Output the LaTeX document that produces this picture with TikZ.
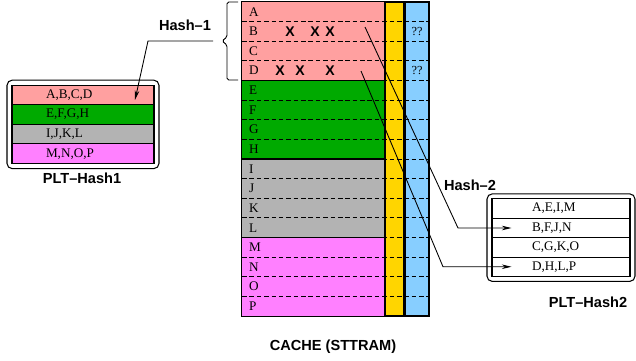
\documentclass[tikz,border=0pt]{standalone}
\usepackage{fontspec}
\setmainfont{Liberation Serif}
\setsansfont{Liberation Sans}
\usepackage{xcolor}
\usetikzlibrary{positioning, arrows.meta, fit, backgrounds}
\definecolor{pinkc}{RGB}{255,160,160}
\definecolor{greenc}{RGB}{0,170,0}
\definecolor{grayc}{RGB}{179,179,179}
\definecolor{magc}{RGB}{255,128,255}
\definecolor{yelc}{RGB}{255,213,0}
\definecolor{bluec}{RGB}{135,206,255}
\tikzset{
  cell/.style={rectangle, minimum width=2.86cm, minimum height=0.3925cm, inner sep=0pt,
               inner xsep=0.14cm, text width=2.58cm, align=left, font=\fontsize{7.5}{9}\selectfont},
  col/.style={rectangle, draw, line width=0.7pt, inner sep=0pt, minimum height=6.28cm},
  grp/.style={draw, line width=0.7pt},
  sep/.style={densely dashed, dash pattern=on 2.6pt off 1.6pt, line width=0.5pt},
  xmark/.style={font=\fontsize{8}{9}\sffamily\bfseries, inner sep=0pt},
  qm/.style={font=\fontsize{7}{8}\selectfont, inner sep=0pt},
  hrowa/.style={rectangle, draw, line width=0.6pt, minimum height=0.395cm, inner ysep=0pt,
                inner xsep=0.68cm, text width=1.48cm, align=left, font=\fontsize{7.5}{9}\selectfont},
  hrowb/.style={rectangle, draw, line width=0.6pt, minimum height=0.385cm, inner ysep=0pt,
                inner xsep=0.8cm, text width=1.16cm, align=left, font=\fontsize{7.5}{9}\selectfont},
  pltbox/.style={draw, rounded corners=3pt, inner sep=0.09cm, line width=0.6pt},
  lbl/.style={font=\fontsize{8.3}{10}\sffamily\bfseries},
  arr/.style={-{Stealth[length=5.5pt, width=2.6pt]}, line width=0.5pt},
}

\begin{document}
\begin{tikzpicture}[x=0.02cm, y=-0.02cm]
  \useasboundingbox (0,0) rectangle (636,360);

  % Cache rows
  \foreach \l/\c [count=\i from 0] in {A/pinkc, B/pinkc, C/pinkc, D/pinkc,
      E/greenc, F/greenc, G/greenc, H/greenc, I/grayc, J/grayc, K/grayc, L/grayc,
      M/magc, N/magc, O/magc, P/magc}
    \node[cell, fill=\c] (c\l) at (313.5, {2+19.625*(\i+0.5)}) {\l};

  % Tag and flag columns
  \node[col, fill=yelc, minimum width=0.38cm] (ycol) at (394, 159) {};
  \node[col, fill=bluec, minimum width=0.48cm] (bcol) at (417, 159) {};

  % Row separators
  \foreach \i in {1,...,15}
    \draw[sep] (242, {2+19.625*\i}) -- (429, {2+19.625*\i});

  % Groups of four
  \foreach \a/\b in {A/D, E/H, I/L, M/P}
    \draw[grp] (c\a.north west) rectangle (c\b.south east);

  % X marks and flags
  \foreach \x [count=\k] in {290, 315, 330}
    \node[xmark] (xb\k) at (\x, 0 |- cB) {X};
  \foreach \x [count=\k] in {280, 300, 330}
    \node[xmark] (xd\k) at (\x, 0 |- cD) {X};
  \node[qm] (qB) at (bcol |- cB) {??};
  \node[qm] (qD) at (bcol |- cD) {??};

  % Brace over A-D
  \draw[line width=0.5pt, rounded corners=1pt] (238,2) -- (227,2) -- (227,37) -- (222,41)
    -- (227,45) -- (227,80) -- (238,80);

  % PLT-Hash1
  \node[hrowa, fill=pinkc] (h1r1) at (83, 95) {A,B,C,D};
  \node[hrowa, fill=greenc] (h1r2) at (83, 114.5) {E,F,G,H};
  \node[hrowa, fill=grayc] (h1r3) at (83, 134) {I,J,K,L};
  \node[hrowa, fill=magc] (h1r4) at (83, 153.75) {M,N,O,P};
  \node[pltbox, fit=(h1r1)(h1r4)] (h1box) {};
  \node[lbl] (h1name) at (82, 178) {PLT--Hash1};

  % PLT-Hash2
  \node[hrowb] (h2r1) at (561, 208.5) {A,E,I,M};
  \node[hrowb] (h2r2) at (561, 228) {B,F,J,N};
  \node[hrowb] (h2r3) at (561, 247.5) {C,G,K,O};
  \node[hrowb] (h2r4) at (561, 266.75) {D,H,L,P};
  \node[pltbox, fit=(h2r1)(h2r4)] (h2box) {};
  \node[lbl] (h2name) at (588, 302) {PLT--Hash2};

  % Hash-1
  \node[lbl] (hash1) at (185, 25) {Hash--1};
  \coordinate (b1) at (213, 41);
  \coordinate (b2) at (148, 41);
  \coordinate (h1in) at (135, 100);
  \draw[arr] (b1) -- (b2) -- (h1in);

  % Hash-2
  \node[lbl] (hash2) at (470, 185) {Hash--2};
  \coordinate (pB) at (365, 27);
  \coordinate (kB) at (458, 228);
  \coordinate (pD) at (361, 71);
  \coordinate (kD) at (443, 266.75);
  \draw[arr] (pB) -- (kB) -- ([xshift=0.4cm]h2r2.west);
  \draw[arr] (pD) -- (kD) -- ([xshift=0.4cm]h2r4.west);

  \node[lbl] (cname) at (333, 347) {CACHE (STTRAM)};
\end{tikzpicture}
\end{document}
